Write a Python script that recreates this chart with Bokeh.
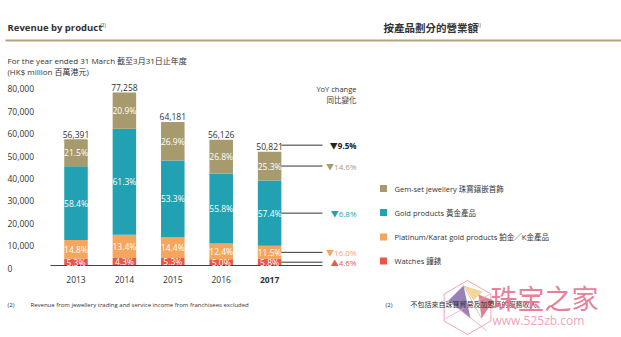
import math
from bokeh.plotting import figure
from bokeh.models import Range1d, Label, ColumnDataSource
from bokeh.core.properties import value
from bokeh.embed import file_html
from bokeh.resources import INLINE

# ---------------- data ----------------
years = ["2013", "2014", "2015", "2016", "2017"]
totals = [56391, 77258, 64181, 56126, 50821]
total_labels = ["56,391", "77,258", "64,181", "56,126", "50,821"]
watches_pct = [5.3, 4.3, 5.3, 5.0, 5.8]
platinum_pct = [14.8, 13.4, 14.4, 12.4, 11.5]
gold_pct = [58.4, 61.3, 53.3, 55.8, 57.4]
gemset_pct = [21.5, 20.9, 26.9, 26.8, 25.3]
yoy_total = -9.5
yoy_gemset = -14.6
yoy_gold = -6.8
yoy_platinum = -16.0
yoy_watches = 4.6
y_ticks = [0, 10000, 20000, 30000, 40000, 50000, 60000, 70000, 80000]
y_tick_labels = ["0", "10,000", "20,000", "30,000", "40,000", "50,000", "60,000", "70,000", "80,000"]
legend_names = ["Gem-set jewellery 珠寶鑲嵌首飾", "Gold products 黃金產品",
                "Platinum/Karat gold products 鉑金／K金產品", "Watches 鐘錶"]

# ---------------- style ----------------
C_GEM = "#a79b6d"
C_GOLD = "#21a1b1"
C_PLAT = "#f6a55c"
C_WATCH = "#e8564c"
C_TEXT = "#333333"
C_RULE = "#b5a37d"
FONT = "'Open Sans', 'Noto Sans CJK TC', sans-serif"

W, H = 621, 337
X0, XS = 75.5, 48.4      # pixel of bar 0 centre, pixels per bar step
Y0, YS = 265.0, 0.00224  # pixel of value 0, pixels per unit value


def X(px):
    return (px - X0) / XS


def Y(py):
    return (Y0 - py) / YS


def DV(dpx):
    return dpx / YS


p = figure(width=W, height=H, x_range=Range1d(X(0), X(W)), y_range=Range1d(Y(H), Y(0)),
           output_backend="svg", toolbar_location=None, min_border=0,
           x_axis_location=None, y_axis_location=None, outline_line_color=None)
p.xgrid.visible = False
p.ygrid.visible = False
p.background_fill_color = "white"
p.border_fill_color = "white"


def lab(px, py, text, size, color=C_TEXT, align="left", bold=False, baseline="middle", alpha=1.0):
    p.add_layout(Label(x=X(px), y=Y(py), text=text, text_font=FONT, text_font_size=f"{size}px",
                       text_color=color, text_align=align, text_baseline=baseline,
                       text_font_style="bold" if bold else "normal", text_alpha=alpha))


# ---------------- header ----------------
lab(7, 27, "Revenue by product", 9.5, bold=True)
lab(100, 24, "(2)", 4.5)
lab(383, 27, "按產品劃分的營業額", 10.5, bold=True)
lab(475, 24, "(2)", 4.5)
p.segment(x0=[X(5)], y0=[Y(40)], x1=[X(W)], y1=[Y(40)], line_color=C_RULE, line_width=2)

lab(7, 60, "For the year ended 31 March 截至3月31日止年度", 8)
lab(7, 71, "(HK$ million 百萬港元)", 8)

# ---------------- y tick labels ----------------
p.text(x=[X(7)] * len(y_ticks), y=[t - DV(2.5) for t in y_ticks], text=y_tick_labels,
       text_font=value(FONT), text_font_size="8.5px", text_color=C_TEXT,
       text_align="left", text_baseline="middle")

# ---------------- bars ----------------
xs = list(range(len(years)))
watches = [t * w / 100 for t, w in zip(totals, watches_pct)]
platinum = [t * v / 100 for t, v in zip(totals, platinum_pct)]
gold = [t * v / 100 for t, v in zip(totals, gold_pct)]
gemset = [t * v / 100 for t, v in zip(totals, gemset_pct)]
src = ColumnDataSource(dict(x=xs, watches=watches, platinum=platinum, gold=gold, gemset=gemset))
BW = 0.486
p.vbar_stack(["watches", "platinum", "gold", "gemset"], x="x", width=BW, source=src,
             color=[C_WATCH, C_PLAT, C_GOLD, C_GEM], line_color=None)

# baseline
p.segment(x0=[X(50)], y0=[0], x1=[X(322)], y1=[0], line_color="#444444", line_width=1)

# percentage labels
series = [(watches, watches_pct), (platinum, platinum_pct), (gold, gold_pct), (gemset, gemset_pct)]
lx, ly, lt = [], [], []
mids_last = []
bottoms = [0.0] * len(years)
for vals, pcts in series:
    for i in range(len(years)):
        mid = bottoms[i] + vals[i] / 2
        lx.append(i)
        ly.append(mid)
        lt.append(f"{pcts[i]:.1f}%")
        if i == len(years) - 1:
            mids_last.append(mid)
        bottoms[i] += vals[i]
p.text(x=lx, y=ly, text=lt, text_font=value(FONT), text_font_size="8.5px", text_color="white",
       text_align="center", text_baseline="middle")

# totals
p.text(x=xs, y=[t + DV(1.5) for t in totals], text=total_labels, text_font=value(FONT),
       text_font_size="8.5px", text_color=C_TEXT, text_align="center", text_baseline="bottom")

# x labels
p.text(x=xs[:-1], y=[Y(279)] * (len(xs) - 1), text=years[:-1], text_font=value(FONT),
       text_font_size="8.5px", text_color=C_TEXT, text_align="center", text_baseline="middle")
p.text(x=[xs[-1]], y=[Y(279)], text=[years[-1]], text_font=value(FONT), text_font_style="bold",
       text_font_size="8.5px", text_color=C_TEXT, text_align="center", text_baseline="middle")

# ---------------- YoY leaders ----------------
last = len(years) - 1
edge = last + BW / 2
total_y = totals[last] + DV(6.5)
line_ys = [total_y, mids_last[3], mids_last[2], mids_last[1], mids_last[0]]
line_x0 = [edge] * 5
p.segment(x0=line_x0, y0=line_ys, x1=[X(322)] * 5, y1=line_ys, line_color="#333333", line_width=1)


def fmt(v):
    return ("▲" if v > 0 else "▼") + f"{abs(v):.1f}%"


yoy_vals = [yoy_total, yoy_gemset, yoy_gold, yoy_platinum, yoy_watches]
yoy_cols = ["#222222", C_GEM, C_GOLD, C_PLAT, C_WATCH]
p.text(x=[X(356)], y=[line_ys[0]], text=[fmt(yoy_vals[0])], text_font=value(FONT),
       text_font_style="bold", text_font_size="8px", text_color=yoy_cols[0],
       text_align="right", text_baseline="middle")
p.text(x=[X(356)] * 4, y=line_ys[1:], text=[fmt(v) for v in yoy_vals[1:]], text_font=value(FONT),
       text_font_size="8px", text_color=yoy_cols[1:], text_align="right", text_baseline="middle")

lab(356, 88, "YoY change", 7.5, align="right")
lab(356, 99, "同比變化", 7.5, align="right")

# ---------------- legend ----------------
leg_cols = [C_GEM, C_GOLD, C_PLAT, C_WATCH]
leg_py = [188, 212, 236.5, 260.5]
p.scatter(x=[X(383)] * 4, y=[Y(v) for v in leg_py], marker="square", size=7,
          color=leg_cols, line_color=None)
for name, py in zip(legend_names, leg_py):
    lab(394, py, name, 7.5)

# ---------------- footnotes ----------------
lab(7, 304, "(2)", 6)
lab(30, 304, "Revenue from jewellery trading and service income from franchisees excluded", 6)
lab(385, 304, "(2)", 6)
lab(410, 304, "不包括來自珠寶貿易及加盟商的服務收入", 7)

# ---------------- watermark ----------------
cx, cy, r = 467, 307, 27
hx = [X(cx + r * math.sin(math.radians(a))) for a in range(0, 360, 60)]
hy = [Y(cy - r * math.cos(math.radians(a))) for a in range(0, 360, 60)]
p.patch(hx, hy, fill_color="white", fill_alpha=0.5, line_color="#f0a4b6", line_width=1)
p.patch([X(448), X(463), X(470)], [Y(300), Y(285), Y(318)], fill_color="#5b3f94",
        fill_alpha=0.65, line_color=None)
p.patch([X(463), X(482), X(473)], [Y(285), Y(291), Y(300)], fill_color="#f2c36e",
        fill_alpha=0.7, line_color=None)
p.patch([X(478), X(493), X(481)], [Y(294), Y(300), Y(318)], fill_color="#c2304c",
        fill_alpha=0.6, line_color=None)
p.multi_line(xs=[[X(448), X(486)], [X(463), X(481)], [X(445), X(489)]],
             ys=[[Y(300), Y(330)], [Y(285), Y(318)], [Y(318), Y(294)]],
             line_color="#f0a4b6", line_width=0.8)
lab(490, 298, "珠宝之家", 27, color="#e46f8c", alpha=0.9)
lab(492, 320, "www.525zb.com", 12, color="#eb98ad", alpha=0.9)

open("out.html", "w").write(file_html(p, INLINE))
